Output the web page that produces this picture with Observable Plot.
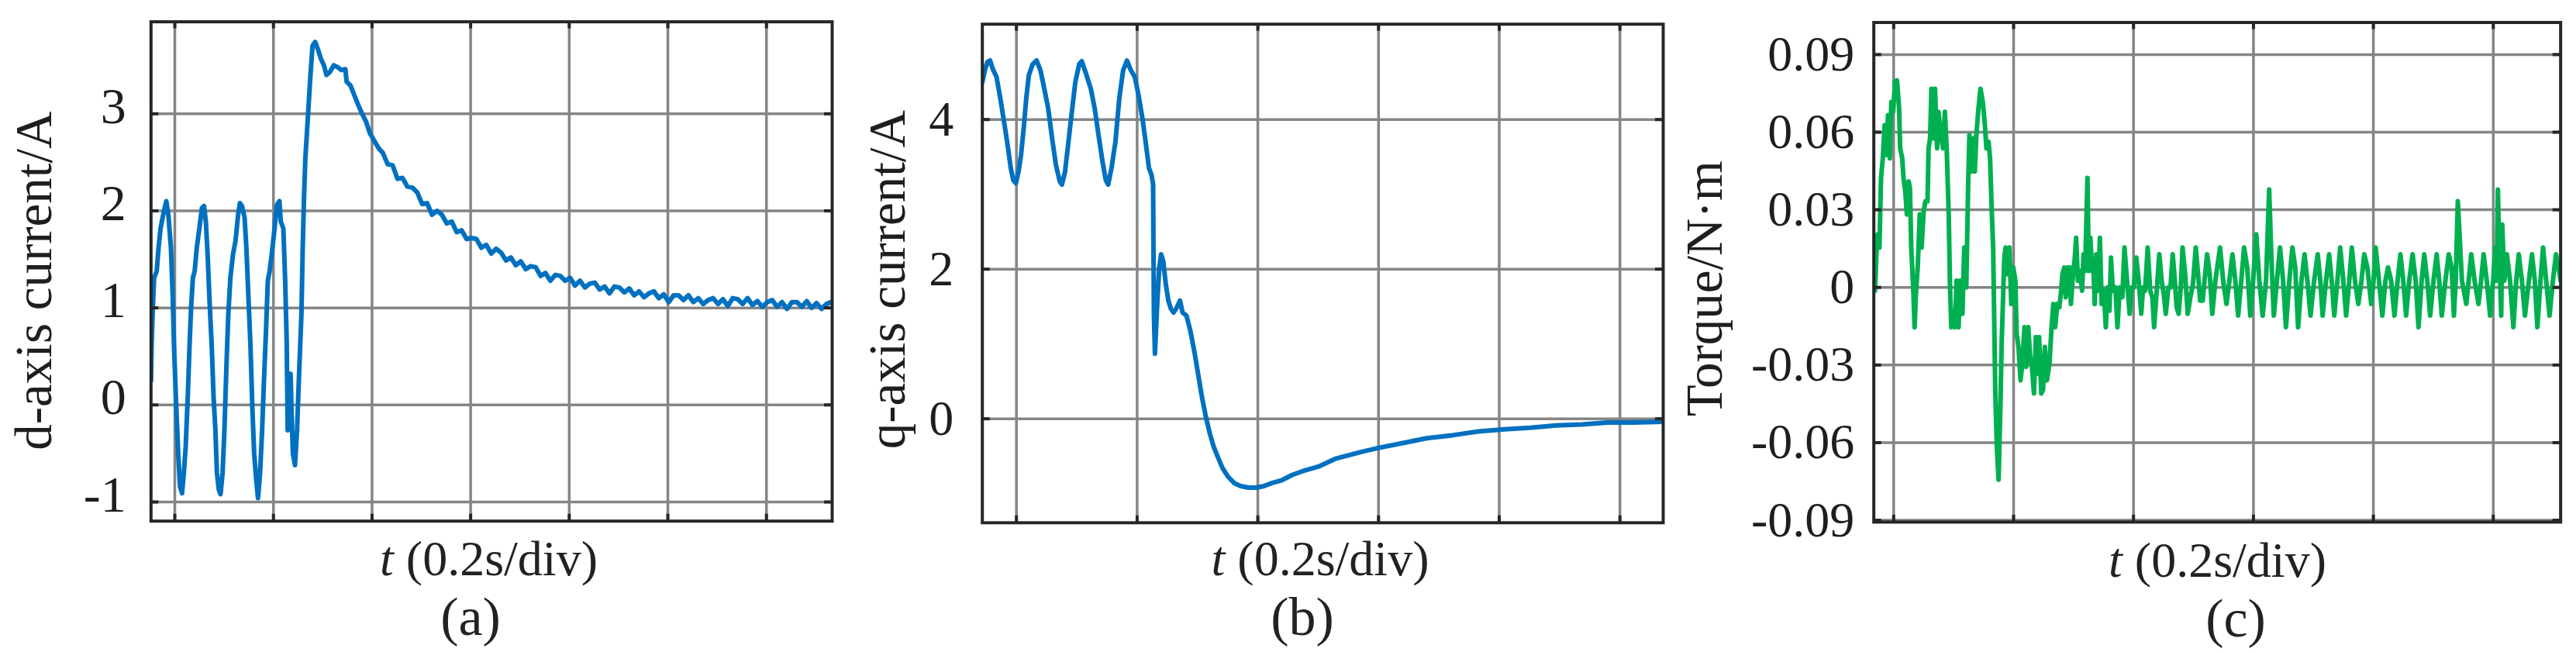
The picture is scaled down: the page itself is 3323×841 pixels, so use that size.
<!DOCTYPE html>
<html><head><meta charset="utf-8">
<script src="https://cdn.jsdelivr.net/npm/d3@7"></script>
<script src="https://cdn.jsdelivr.net/npm/@observablehq/plot@0.6"></script>
<style>
html,body{margin:0;padding:0;background:#fff;}
#fig{position:relative;width:3323px;height:841px;overflow:hidden;background:#fff;font-family:"Liberation Serif","Times New Roman",Times,serif;color:#222;}
.cap{position:absolute;white-space:nowrap;transform:translateX(-50%);line-height:0.8;}
</style></head>
<body><div id="fig"></div>
<script>
// ---------- DATA (time in ms) ----------
// (a) d-axis current / A
const aT = [0,1.1,3.7,6.3,11.6,15.3,19.4,24.7,31.0,35.2,
40.4,44.1,46.7,50.9,55.1,58.8,62.9,66.6,70.3,74.5,
78.1,81.3,85.0,88.6,92.8,98.1,103.3,107.5,111.2,114.8,
119.0,123.2,126.9,130.6,133.7,137.4,141.0,145.2,148.9,153.1,
156.8,161.0,166.2,171.4,176.7,180.3,184.5,189.8,193.4,197.6,
201.8,205.5,209.2,213.4,217.0,221.2,225.4,229.1,233.3,236.9,
240.6,244.8,250.0,255.3,260.5,263.1,268.4,272.1,275.2,277.3,
279.9,283.1,285.2,287.8,292.0,296.2,299.8,305.1,307.7,310.3,
313.0,315.6,319.2,323.4,327.6,332.9,338.1,344.4,350.7,355.9,
362.7,370.6,378.5,386.3,394.2,396.8,404.7,412.5,420.4,428.2,
436.1,443.9,451.8,462.3,
470,480,490,500,510,520,530,540,550,560,570,580,590,600,610,620,630,640,650,660,
670,680,690,700,710,720,730,740,750,760,770,780,790,800,810,820,830,840,850,860,
870,880,890,900,910,920,930,940,950,960,970,980,990,1000,1010,1020,1030,1040,1050,1060,
1070,1080,1090,1100,1110,1120,1130,1140,1150,1160,1170,1180,1190,1200,1210,1220,1230,1240,1250,1260,
1270,1280,1290,1300,1310,1320,1330,1340,1350,1360,1370,1380];
const aI = [0.25,0.60,1.00,1.31,1.38,1.62,1.82,1.96,2.10,1.96,
1.62,1.11,0.60,0.02,-0.50,-0.84,-0.91,-0.70,-0.43,0.08,
0.60,1.00,1.31,1.38,1.62,1.82,2.03,2.05,1.89,1.55,
1.04,0.60,0.08,-0.26,-0.70,-0.87,-0.92,-0.70,-0.26,0.42,
0.94,1.31,1.55,1.69,1.96,2.08,2.05,1.93,1.62,1.11,
0.60,-0.02,-0.50,-0.77,-0.96,-0.70,-0.26,0.25,0.77,1.28,
1.38,1.55,1.79,2.06,2.10,1.89,1.82,1.28,0.66,-0.26,
0.32,0.32,-0.09,-0.50,-0.62,-0.26,0.25,0.94,1.62,2.13,
2.54,2.75,3.05,3.40,3.70,3.74,3.67,3.57,3.50,3.40,
3.43,3.50,3.48,3.45,3.46,3.33,3.29,3.19,3.09,3.00,
2.92,2.80,2.73,2.64,
2.60,2.48,2.47,2.33,2.34,2.25,2.24,2.19,2.07,2.08,
1.96,2.00,1.96,1.87,1.89,1.78,1.80,1.71,1.72,1.71,
1.62,1.65,1.56,1.61,1.57,1.49,1.52,1.44,1.48,1.40,
1.43,1.42,1.33,1.36,1.28,1.34,1.33,1.28,1.31,1.23,
1.28,1.21,1.25,1.26,1.19,1.22,1.15,1.22,1.21,1.16,
1.20,1.13,1.17,1.11,1.15,1.17,1.10,1.14,1.06,1.13,
1.13,1.08,1.13,1.06,1.10,1.04,1.08,1.10,1.04,1.09,
1.02,1.10,1.09,1.04,1.10,1.03,1.07,1.01,1.06,1.08,
1.01,1.06,0.99,1.06,1.06,1.01,1.07,1.00,1.05,0.99,
1.04,1.06];

// (b) q-axis current / A
const bT = [0,4.2,8.5,12.8,17.1,23.5,29.9,34.2,38.5,42.8,
47.1,51.3,55.6,59.9,64.2,68.5,72.7,77.0,83.4,89.9,
96.3,102.7,109.1,115.6,122.0,128.4,131.8,137.0,142.1,147.7,
154.1,160.5,164.8,171.2,179.8,186.2,192.6,199.1,204.6,208.5,
214.0,220.5,226.9,233.3,239.7,246.1,252.6,259.0,265.4,270.6,
276.1,280.4,283.0,283.4,284.3,286.0,287.7,290.3,293.2,296.2,
299.7,304.0,308.2,312.5,316.8,321.1,327.5,331.8,338.2,344.6,
351.1,357.5,363.9,370.3,376.7,383.2,389.6,398.1,406.7,417.4,
428.1,440.9,453.8,466.6,479.5,496.6,513.8,530.9,556.6,586.5,
629.3,655.9,693.6,736.4,779.2,822.0,864.8,907.6,950.5,993.3,
1036.1,1078.9,1128.2];
const bI = [4.50,4.66,4.77,4.79,4.68,4.57,4.28,4.06,3.84,3.61,
3.35,3.19,3.15,3.30,3.53,3.88,4.28,4.59,4.74,4.79,
4.66,4.41,4.15,3.75,3.39,3.17,3.13,3.30,3.66,4.06,
4.50,4.74,4.78,4.63,4.41,4.15,3.79,3.44,3.19,3.13,
3.35,3.70,4.28,4.66,4.79,4.66,4.57,4.32,4.01,3.70,
3.35,3.26,3.13,2.51,1.40,0.87,1.18,1.62,2.02,2.20,
2.11,1.80,1.58,1.47,1.42,1.47,1.58,1.42,1.38,1.18,
0.91,0.60,0.29,0.03,-0.19,-0.37,-0.50,-0.66,-0.77,-0.86,
-0.90,-0.92,-0.92,-0.90,-0.86,-0.82,-0.75,-0.70,-0.64,-0.53,
-0.44,-0.39,-0.33,-0.26,-0.22,-0.17,-0.14,-0.12,-0.09,-0.075,
-0.05,-0.05,-0.04];

// (c) Torque / N·m
const cT = [0,2.1,4.3,6.4,9.4,12.0,15.0,18.0,21.5,23.6,
26.7,29.2,32.3,35.3,38.7,42.2,43.9,47.4,49.5,52.5,
55.1,58.1,60.3,62.4,65.9,68.0,70.2,73.2,76.6,79.7,
83.1,86.1,89.6,91.3,93.9,96.0,99.1,102.1,105.5,107.7,
112.0,115.4,118.5,121.5,124.9,127.1,129.2,132.7,135.3,137.9,
141.3,144.3,147.8,150.8,154.2,157.2,159.4,162.4,165.0,168.4,
171.0,174.5,177.9,181.8,185.2,187.8,191.3,193.9,196.5,199.0,
200.8,202.5,205.1,208.1,211.1,213.3,215.4,217.6,219.7,223.2,
226.2,229.2,232.6,236.1,238.2,241.3,244.7,248.2,251.2,254.2,
257.6,260.7,263.7,267.1,270.1,272.7,275.7,279.2,282.2,285.2,
288.7,293.0,296.4,299.4,302.5,305.9,309.4,312.4,314.5,317.6,
320.1,323.1,326.6,328.7,331.8,335.2,337.4,340.4,343.8,347.3,
349.9,352.4,356.3,358.5,361.1,364.1,366.2,368.4,371.0,374.0,
377.0,380.0,383.5,386.9,389.9,393.0,395.5,398.6,402.9,406.3,
410.2,414.5,418.0,422.3,426.6,430.0,433.5,437.8,441.7,446.0,
449.0,452.4,456.7,461.0,464.5,467.5,471.8,476.1,480.0,483.5,
486.9,491.2,494.7,498.5,502.0,505.0,508.4,511.9,514.9,519.2,
523.5,527.9,532.2,536.9,540.8,544.2,548.5,551.5,555.8,560.2,
564.5,569.6,577.4,582.6,588.2,593.0,598.1,602.9,607.6,612.8,
617.5,622.7,627.9,632.6,637.8,642.9,648.5,654.1,659.3,663.6,
667.1,672.2,677.4,682.6,687.3,692.9,698.1,702.8,707.6,713.2,
718.3,723.1,728.3,734.3,740.3,744.6,748.5,754.1,759.3,763.6,
767.9,773.1,777.8,783.0,787.7,792.9,797.2,802.4,808.0,813.2,
817.9,823.1,829.5,833.4,836.9,842.5,848.1,853.2,857.5,862.7,
868.3,873.5,878.2,883.0,887.7,892.9,898.5,903.7,908.4,913.6,
917.9,923.0,927.8,933.4,938.6,942.9,947.2,953.2,958.8,963.6,
967.4,970.4,973.9,980.8,988.1,992.0,996.3,1001.9,1008.4,1012.7,
1017.0,1022.2,1027.8,1032.9,1036.4,1038.5,1040.7,1043.7,1046.3,1048.0,
1051.5,1055.8,1061.0,1066.6,1071.3,1075.6,1080.8,1085.9,1092.4,1097.6,
1102.3,1106.6,1111.8,1116.1,1121.3,1126.9,1132.5,1137.6,1141.9,1145.4];
const cTq = [0.0026,-0.0013,0.0128,0.0205,0.0154,0.0423,0.0499,0.0627,0.0512,0.0666,
0.0499,0.0717,0.0679,0.0794,0.0800,0.0691,0.0538,0.0499,0.0423,0.0371,
0.0282,0.0410,0.0384,0.0154,-0.0013,-0.0154,-0.0026,0.0077,0.0282,0.0154,
0.0294,0.0333,0.0333,0.0538,0.0576,0.0768,0.0576,0.0768,0.0538,0.0679,
0.0589,0.0538,0.0679,0.0538,0.0282,0,-0.0154,-0.0090,-0.0154,0.0026,
-0.0154,0.0026,-0.0102,0.0154,0,0.0384,0.0589,0.0448,0.0576,0.0448,
0.0589,0.0691,0.0768,0.0717,0.0627,0.0538,0.0563,0.0499,0.0307,0.0154,
-0.0128,-0.0397,-0.0615,-0.0743,-0.0461,-0.0205,-0.0051,0.0115,0.0154,0.0051,
0.0154,-0.0064,0.0077,0.0026,-0.0179,-0.0230,-0.0359,-0.0282,-0.0154,-0.0307,
-0.0154,-0.0269,-0.0307,-0.0410,-0.0192,-0.0333,-0.0192,-0.0410,-0.0397,-0.0230,
-0.0359,-0.0294,-0.0154,-0.0064,-0.0154,-0.0064,-0.0077,-0.0013,0.0051,0.0077,
-0.0038,0.0077,0.0077,-0.0064,0.0038,0.0115,0.0192,0.0026,0.0064,-0.0013,
0.0128,0.0064,0.0423,0.0064,0.0192,0.0064,0.0077,-0.0064,0.0128,-0.0013,
0.0192,-0.0064,-0.0013,-0.0154,0,-0.0090,0.0115,-0.0013,0,-0.0154,
0,-0.0038,0.0154,0.0026,-0.0102,0,0,0.0115,0.0026,-0.0102,
0,-0.0013,0.0154,-0.0013,-0.0038,-0.0154,-0.0013,0.0128,0.0026,-0.0026,
-0.0102,0,0,0.0128,0.0026,-0.0077,-0.0102,0,0.0154,0.0051,
-0.0102,-0.0038,0.0013,0.0154,0.0051,-0.0051,-0.0051,0.0026,0.0128,0.0051,
-0.0102,0.0026,0.0154,0.0026,-0.0064,0.0026,0.0128,0.0026,-0.0109,0.0026,
0.0154,0.0077,-0.0109,0.0026,0.0205,0.0026,-0.0109,0.0026,0.0378,0.0077,
-0.0109,0.0026,0.0154,0.0026,-0.0154,0.0026,0.0154,0.0077,-0.0154,0.0026,
0.0128,0.0026,-0.0109,0.0026,0.0128,0.0026,-0.0109,0.0026,0.0128,0.0026,
-0.0109,0.0026,0.0154,0.0026,-0.0109,0.0026,0.0154,0.0026,-0.0064,0.0026,
0.0128,0.0077,-0.0064,0.0026,0.0154,0.0026,-0.0109,0.0026,0.0077,0.0026,
-0.0109,0.0026,0.0128,0.0026,-0.0109,0.0026,0.0128,0.0026,-0.0154,0.0026,
0.0128,0.0026,-0.0109,0.0026,0.0128,0.0026,-0.0109,0.0026,0.0128,0.0077,
-0.0109,0.0026,0.0333,0.0026,-0.0064,0.0026,0.0128,0.0026,-0.0064,0.0026,
0.0128,0.0026,-0.0109,0.0026,0.0154,0.0026,0.0378,0.0077,-0.0109,0.0243,
0.0026,0.0128,0.0026,-0.0154,0.0026,0.0128,0.0026,-0.0109,0.0026,0.0128,
0.0026,-0.0154,0.0026,0.0154,0.0026,-0.0109,0.0026,0.0128,0.0077,0.0026];

// axis ticks (y) and time-division grid lines (x, 0.2 s/div)
const yTicksA = [-1, 0, 1, 2, 3];
const yTicksB = [0, 2, 4];
const yTicksC = [-0.09, -0.06, -0.03, 0, 0.03, 0.06, 0.09];
const gridA = [48.3, 248.3, 448.3, 648.3, 848.3, 1048.3, 1248.3];
const gridB = [56.5, 256.5, 456.5, 656.5, 856.5, 1056.5];
const gridC = [33.1, 233.1, 433.1, 633.1, 833.1, 1033.1];

// texts
const yLabels = ["d-axis current/A", "q-axis current/A", "Torque/N·m"];
const xLabelItalic = "t";
const xLabelRest = " (0.2s/div)";
const panelTags = ["(a)", "(b)", "(c)"];

// ---------- STYLE ----------
const FONT = '"Liberation Serif","Times New Roman",Times,serif';
const GRID = "#858585", FRAME = "#262626", TXT = "#1e1e1e";
const BLUE = "#0070C0", GREEN = "#00B050";

const fig = document.getElementById("fig");

function panel(p) {
  const mL = p.L - p.svgLeft, mR = 12, mT = p.T, mB = 12;
  const width = p.R - p.L + mL + mR, height = p.B - p.T + mT + mB;
  const [x0, x1] = p.xDomain, [y0, y1] = p.yDomain;
  const sx = 10 * (x1 - x0) / (p.R - p.L);
  const sy = 9 * (y1 - y0) / (p.B - p.T);
  const n = Math.min(p.t.length, p.v.length);
  const rows = d3.range(n).map(i => ({t: p.t[i], v: p.v[i]}));
  const stub = {stroke: FRAME, strokeWidth: 4};
  const chart = Plot.plot({
    width, height,
    marginLeft: mL, marginRight: mR, marginTop: mT, marginBottom: mB,
    x: {domain: p.xDomain, axis: null},
    y: {domain: p.yDomain},
    style: {fontFamily: FONT, background: "transparent", overflow: "visible", color: TXT},
    marks: [
      Plot.ruleX(p.grid, {stroke: GRID, strokeWidth: 3.5}),
      Plot.ruleY(p.yTicks, {stroke: GRID, strokeWidth: 3.5}),
      Plot.line(rows, {x: "t", y: "v", stroke: p.color, strokeWidth: p.sw,
        strokeLinejoin: "round", strokeLinecap: "round", clip: true}),
      Plot.ruleX(p.grid, {y1: y0, y2: y0 + sy, ...stub}),
      Plot.ruleX(p.grid, {y1: y1 - sy, y2: y1, ...stub}),
      Plot.ruleY(p.yTicks, {x1: x0, x2: x0 + sx, ...stub}),
      Plot.ruleY(p.yTicks, {x1: x1 - sx, x2: x1, ...stub}),
      Plot.frame({stroke: FRAME, strokeWidth: 4}),
      Plot.axisY(p.yTicks, {tickSize: 0, tickPadding: p.pad, fontSize: p.fs, dy: p.tdy,
        tickFormat: d => String(d), label: null, fill: TXT}),
      Plot.text([p.label], {text: d => d, frameAnchor: "left", rotate: -90,
        dx: p.ldx, dy: p.ldy, fontSize: 67, lineAnchor: "bottom", textAnchor: "middle", fill: TXT})
    ]
  });
  chart.style.position = "absolute";
  chart.style.left = p.svgLeft + "px";
  chart.style.top = "0px";
  fig.appendChild(chart);
}

panel({L: 194.3, T: 27.6, R: 1073, B: 671.7, svgLeft: 0,
  xDomain: [0, 1381.6], yDomain: [-1.197, 3.948], yTicks: yTicksA, grid: gridA,
  t: aT, v: aI, color: BLUE, sw: 6, fs: 66, pad: 32, tdy: -9,
  label: yLabels[0], ldx: -129.3, ldy: 12});
panel({L: 1266.7, T: 30.7, R: 2145, B: 673.8, svgLeft: 1100,
  xDomain: [0, 1128.2], yDomain: [-1.39, 5.275], yTicks: yTicksB, grid: gridB,
  t: bT, v: bI, color: BLUE, sw: 6, fs: 64, pad: 37, tdy: 0,
  label: yLabels[1], ldx: -100.7, ldy: 8});
panel({L: 2416.7, T: 28.5, R: 3302.7, B: 672.9, svgLeft: 2150,
  xDomain: [0, 1145.4], yDomain: [-0.0907, 0.1024], yTicks: yTicksC, grid: gridC,
  t: cT, v: cTq, color: GREEN, sw: 6, fs: 64, pad: 25, tdy: 0,
  label: yLabels[2], ldx: -196.7, ldy: 21});

// captions below each SVG; line-height 0.8 puts the baseline at 0.7375em from the box top
function caption(html, cx, baseline, size) {
  const d = document.createElement("div");
  d.className = "cap";
  d.innerHTML = html;
  d.style.left = cx + "px";
  d.style.top = (baseline - 0.7375 * size) + "px";
  d.style.fontSize = size + "px";
  fig.appendChild(d);
}
const xl = "<i>" + xLabelItalic + "</i>" + xLabelRest;
caption(xl, 630.5, 742, 64);
caption(xl, 1703, 742, 64);
caption(xl, 2860.5, 744, 64);
caption(panelTags[0], 607, 820, 70);
caption(panelTags[1], 1680, 820, 70);
caption(panelTags[2], 2884, 822, 70);
</script>
</body></html>
